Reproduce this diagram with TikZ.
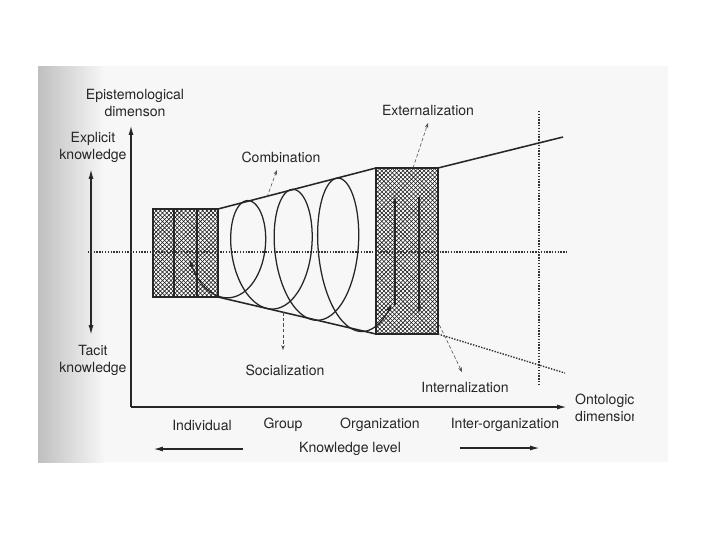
\documentclass[tikz,border=0pt]{standalone}
\usepackage{fontspec}
\setmainfont{TeX Gyre Heros}
\usetikzlibrary{arrows.meta, patterns, positioning}

\begin{document}
\begin{tikzpicture}[
  x=0.025cm, y=-0.025cm,
  lbl/.style={align=center, font=\fontsize{10}{12}\selectfont, text=black!85, inner sep=1pt},
  level/.style={draw=black!85, line width=1.2pt, preaction={fill=white}, pattern=crosshatch, pattern color=black!90, inner sep=0pt, outer sep=0pt},
  edge/.style={line width=1.1pt, draw=black!85},
  axis/.style={line width=1.1pt, draw=black!85, -{Latex[length=7pt,width=3.5pt]}},
  guide/.style={line width=1pt, black!80, densely dotted},
  hint/.style={thin, black!70, dash pattern=on 2.5pt off 1.5pt, -{Stealth[length=3.5pt,width=2.5pt]}},
  turn/.style={line width=1pt, draw=black!85, -{Latex[length=6pt,width=3pt]}}
]

\useasboundingbox (0,0) rectangle (720,540);
\fill[black!3] (38,66) rectangle (668,462);
\shade[left color=black!25, right color=black!3] (38,66) rectangle (105,462);

\node[level, minimum width=1.625cm, minimum height=2.2cm] (indiv) at (185.5,253) {};
\node[level, minimum width=1.55cm, minimum height=4.15cm] (org) at (407,251) {};
\draw[edge] ([xshift=0.525cm]indiv.north west) -- ([xshift=0.525cm]indiv.south west);
\draw[edge] ([xshift=1.1cm]indiv.north west) -- ([xshift=1.1cm]indiv.south west);

\node[lbl] (episteme) at (135,103) {Epistemological\\dimenson};
\node[lbl] (explicit) at (93,147) {Explicit\\knowledge};
\node[lbl] (tacit)    at (93,360) {Tacit\\knowledge};
\node[lbl] (comb)     at (281,157) {Combination};
\node[lbl] (extern)   at (428,110) {Externalization};
\node[lbl] (social)   at (285,370) {Socialization};
\node[lbl] (intern)   at (465,387) {Internalization};

\node[lbl] (individual) at (202,425) {Individual};
\node[lbl] (group)      at (283,425) {Group};
\node[lbl] (organiz)    at (380,425) {Organization};
\node[lbl] (interorg)   at (505,425) {Inter-organization};
\node[lbl] (klevel)     at (350,449) {Knowledge level};
\begin{scope}
  \clip (560,380) rectangle (633,432);
  \node[lbl, anchor=west, align=left] (onto) at (573.5,407.5) {Ontological\\dimension};
\end{scope}

\coordinate (origin)  at (131,407);
\coordinate (epitop)  at (131,125);
\coordinate (ontoend) at (567,407);
\coordinate (expltip) at (91,169);
\coordinate (tactip)  at (91,335);
\coordinate (midleft)  at (88,252);
\coordinate (midright) at (567,252);
\coordinate (bordtop) at (539,111);
\coordinate (bordbot) at (539,384);
\coordinate (upperend) at (563,137);
\coordinate (lowerend) at (565,373);

\draw[axis] (origin) -- (epitop);
\draw[axis] (origin) -- (ontoend);
\draw[line width=1pt, black!85, {Latex[length=7pt,width=3.5pt]}-{Latex[length=7pt,width=3.5pt]}] (expltip) -- (tactip);

\draw[guide] (midleft) -- (midright);
\draw[guide] (bordtop) -- (bordbot);

\draw[edge] (indiv.north east) -- (org.north west);
\draw[edge] (indiv.south east) -- (org.south west);
\draw[edge] (org.north east) -- (upperend);
\draw[guide] (org.south east) -- (lowerend);

\draw[line width=0.9pt, black!85, {Latex[length=5pt,width=3pt]}-{Latex[length=5pt,width=3pt]}]
  plot[domain=-80:1130, samples=500, variable=\t]
  ({226+0.125*\t+(27.035+0.004375*\t)*sin(\t)}, {252+(45.75+0.03125*\t)*cos(\t)});

\coordinate (upfoot)   at (395,305);
\coordinate (uptip)    at (395,195);
\coordinate (downfoot) at (419,197);
\coordinate (downtip)  at (419,315);
\draw[turn] (upfoot) -- (uptip);
\draw[turn] (downfoot) -- (downtip);

\coordinate (combfoot) at (267,197);
\coordinate (combtip)  at (277,170);
\coordinate (extfoot)  at (413,168);
\coordinate (exttip)   at (428,123);
\coordinate (socfoot)  at (283,312);
\coordinate (soctip)   at (283,350);
\coordinate (intfoot)  at (437,320);
\coordinate (inttip)   at (462,372);
\draw[hint] (combfoot) -- (combtip);
\draw[hint] (extfoot) -- (exttip);
\draw[hint] (socfoot) -- (soctip);
\draw[hint] (intfoot) -- (inttip);

\coordinate (leftfrom) at (243,449);
\coordinate (leftto)   at (153,449);
\coordinate (rightfrom) at (460,448);
\coordinate (rightto)   at (540,448);
\draw[axis] (leftfrom) -- (leftto);
\draw[axis] (rightfrom) -- (rightto);

\end{tikzpicture}
\end{document}
